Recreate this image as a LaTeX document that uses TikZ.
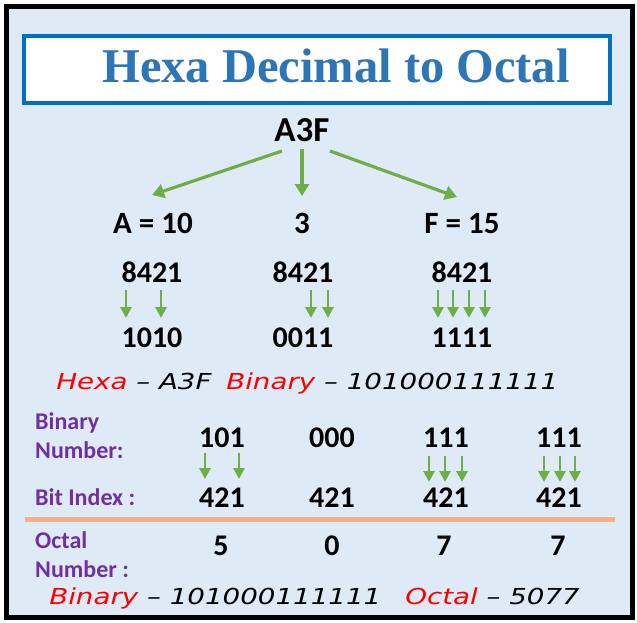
\documentclass[tikz,border=0pt]{standalone}
\usepackage{fontspec}
\setmainfont{Carlito}
\newfontfamily\titlefont{Liberation Serif}
\newfontfamily\comicfont{DejaVu Sans}
\usetikzlibrary{arrows.meta}
\definecolor{bgblue}{HTML}{DEEBF7}
\definecolor{boxblue}{HTML}{0070C0}
\definecolor{titleblue}{HTML}{2E75B6}
\definecolor{agreen}{HTML}{70AD47}
\definecolor{lblpurple}{HTML}{7030A0}
\definecolor{sepline}{HTML}{F4B183}
\definecolor{hred}{HTML}{FF0000}
\tikzset{
  bigarr/.style={draw=agreen, line width=3.2pt, -{Triangle[width=14pt,length=12pt]}},
  sarr/.style={draw=agreen, line width=2.8pt, -{Triangle[width=11pt,length=11pt]}},
  dig/.style={font=\fontsize{30}{30}\selectfont\bfseries, inner sep=0pt, anchor=base},
  lbl/.style={font=\fontsize{24}{24}\selectfont\bfseries, text=lblpurple, inner sep=0pt, anchor=base west},
  comic/.style={font=\fontsize{22}{22}\selectfont\comicfont\itshape, inner sep=0pt, anchor=base west, xscale=1.26},
}
\begin{document}
\begin{tikzpicture}[x=1pt,y=-1pt]
\useasboundingbox (0,0) rectangle (637,623);
\draw[line width=5pt, fill=bgblue] (6.5,7) rectangle (632.5,617);
\node[draw=boxblue, line width=3.5pt, fill=white, minimum width=586pt, minimum height=67pt, inner sep=0pt] (titlebox) at (317,69.5) {};
\node[font=\fontsize{48.5}{48.5}\selectfont\titlefont\bfseries, text=titleblue, inner sep=0pt, anchor=base] (title) at (336,83) {Hexa Decimal to Octal};

% top hex number
\node[dig, font=\fontsize{35}{35}\selectfont\bfseries] (hex) at (302,142) {A3F};
\node[dig, font=\fontsize{31}{31}\selectfont\bfseries] (dA) at (153,233) {A = 10};
\node[dig, font=\fontsize{31}{31}\selectfont\bfseries] (d3) at (302,233) {3};
\node[dig, font=\fontsize{31}{31}\selectfont\bfseries] (dF) at (462,233) {F = 15};
\coordinate (s1) at (282,151); \coordinate (e1) at (152,195);
\coordinate (s2) at (302,149); \coordinate (e2) at (302,196);
\coordinate (s3) at (330,151); \coordinate (e3) at (457,197);
\draw[bigarr] (s1) -- (e1);
\draw[bigarr] (s2) -- (e2);
\draw[bigarr] (s3) -- (e3);

% 8421 rows
\node[dig] (wA) at (152,282) {8421};
\node[dig] (w3) at (303,282) {8421};
\node[dig] (wF) at (462,282) {8421};
\node[dig] (bA) at (152,347) {1010};
\node[dig] (b3) at (303,347) {0011};
\node[dig] (bF) at (462,347) {1111};
\foreach \x [count=\i] in {126,161,311,328,438,453,469,485}{
  \coordinate (ua\i) at (\x,290); \coordinate (ub\i) at (\x,318);
  \draw[sarr] (ua\i) -- (ub\i);
}

% comic line 1
\node[comic] (hexa) at (56,389) {{\color{hred}Hexa} – A3F};
\node[comic] (bin1) at (226,389) {{\color{hred}Binary} – 101000111111};

% binary grouping
\node[lbl] (lb1) at (35,429) {Binary};
\node[lbl] (lb2) at (35,458) {Number:};
\node[lbl] (lb3) at (35,505) {Bit Index :};
\node[dig] (g1) at (222,447) {101};
\node[dig] (g2) at (332,447) {000};
\node[dig] (g3) at (446,447) {111};
\node[dig] (g4) at (559,447) {111};
\node[dig] (i1) at (222,507) {421};
\node[dig] (i2) at (332,507) {421};
\node[dig] (i3) at (446,507) {421};
\node[dig] (i4) at (559,507) {421};
\foreach \x/\ys/\ye [count=\i] in {205/453/479,239/453/479,429/456/482,445/456/482,462/456/482,544/456/482,560/456/482,575/456/482}{
  \coordinate (va\i) at (\x,\ys); \coordinate (vb\i) at (\x,\ye);
  \draw[sarr] (va\i) -- (vb\i);
}

% separator
\coordinate (l1) at (25,519); \coordinate (l2) at (615,519);
\draw[sepline, line width=5pt] (l1) -- (l2);

% octal row
\node[lbl] (lo1) at (35,548) {Octal};
\node[lbl] (lo2) at (35,577) {Number :};
\node[dig] (o1) at (221,555) {5};
\node[dig] (o2) at (332,555) {0};
\node[dig] (o3) at (444,555) {7};
\node[dig] (o4) at (558,555) {7};

% comic line 2
\node[comic] (bin2) at (49,604) {{\color{hred}Binary} – 101000111111};
\node[comic] (oct) at (405,604) {{\color{hred}Octal} – 5077};
\end{tikzpicture}
\end{document}
